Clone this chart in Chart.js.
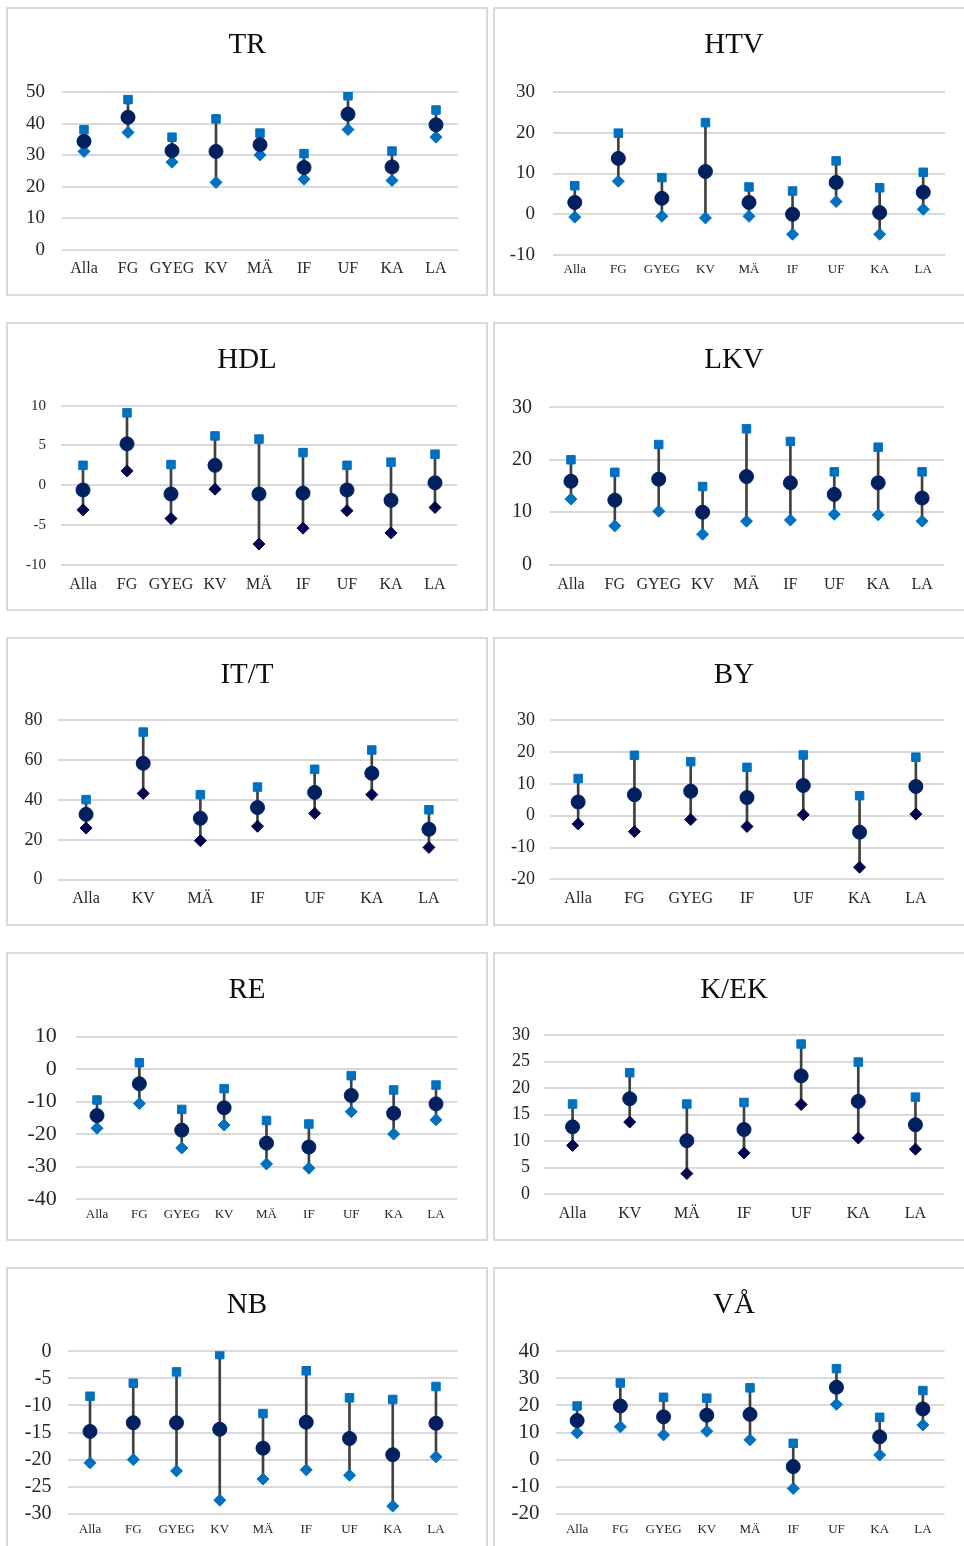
<!DOCTYPE html>
<html><head><meta charset="utf-8">
<script src="https://cdn.jsdelivr.net/npm/chart.js@4.4.0/dist/chart.umd.min.js"></script>
<style>
html,body{margin:0;padding:0;background:#fff;overflow:hidden;width:964px;height:1546px;position:relative;}
.panel{position:absolute;box-sizing:border-box;border:2px solid #d9d9d9;background:#fff;}
canvas{position:absolute;}
</style></head><body>
<script>
// ---- categories ----
const cats9   = ['Alla','FG','GYEG','KV','MÄ','IF','UF','KA','LA'];
const catsIT  = ['Alla','KV','MÄ','IF','UF','KA','LA'];
const catsBY  = ['Alla','FG','GYEG','IF','UF','KA','LA'];
const catsKEK = ['Alla','KV','MÄ','IF','UF','KA','LA'];

// ---- series values (high / mean / low) ----
const trHigh = [38.1, 47.6, 35.7, 41.5, 37.0, 30.5, 48.8, 31.3, 44.3];
const trMean = [34.4, 42.0, 31.4, 31.2, 33.3, 26.1, 43.0, 26.3, 39.6];
const trLow  = [31.2, 37.2, 27.8, 21.4, 30.1, 22.4, 38.1, 22.0, 35.7];

const htvHigh = [7.0, 19.9, 9.0, 22.5, 6.7, 5.7, 13.1, 6.5, 10.3];
const htvMean = [2.9, 13.7, 3.9, 10.5, 2.9, 0.0, 7.8, 0.4, 5.4];
const htvLow  = [-0.7, 8.1, -0.5, -0.9, -0.5, -4.9, 3.1, -4.9, 1.2];

const hdlHigh = [2.5, 9.1, 2.6, 6.2, 5.8, 4.1, 2.5, 2.9, 3.9];
const hdlMean = [-0.6, 5.2, -1.1, 2.5, -1.1, -1.0, -0.6, -1.9, 0.3];
const hdlLow  = [-3.1, 1.8, -4.2, -0.5, -7.4, -5.4, -3.2, -6.0, -2.8];

const lkvHigh = [20.0, 17.6, 22.9, 14.9, 25.9, 23.5, 17.7, 22.4, 17.7];
const lkvMean = [15.9, 12.3, 16.3, 10.0, 16.8, 15.6, 13.4, 15.6, 12.7];
const lkvLow  = [12.5, 7.4, 10.2, 5.8, 8.3, 8.5, 9.6, 9.5, 8.3];

const ittHigh = [40.2, 74.1, 42.7, 46.5, 55.4, 65.1, 35.1];
const ittMean = [32.8, 58.4, 30.8, 36.2, 43.8, 53.4, 25.3];
const ittLow  = [25.9, 43.3, 19.6, 26.8, 33.3, 42.7, 16.2];

const byHigh = [11.7, 19.0, 17.0, 15.2, 19.1, 6.3, 18.4];
const byMean = [4.3, 6.6, 7.7, 5.7, 9.5, -5.2, 9.2];
const byLow  = [-2.6, -5.0, -1.2, -3.4, 0.3, -16.2, 0.5];

const reHigh = [-9.5, 2.0, -12.4, -6.0, -15.8, -16.9, -2.0, -6.4, -4.9];
const reMean = [-14.3, -4.5, -18.8, -11.9, -22.8, -24.0, -8.1, -13.6, -10.7];
const reLow  = [-18.2, -10.6, -24.3, -17.2, -29.2, -30.5, -13.1, -20.0, -15.6];

const kekHigh = [17.0, 22.9, 17.0, 17.3, 28.3, 24.9, 18.3];
const kekMean = [12.7, 18.0, 10.1, 12.2, 22.3, 17.5, 13.1];
const kekLow  = [9.2, 13.6, 3.9, 7.8, 16.9, 10.6, 8.5];

const nbHigh = [-8.3, -5.9, -3.8, -0.6, -11.5, -3.6, -8.6, -8.9, -6.5];
const nbMean = [-14.8, -13.2, -13.2, -14.4, -17.9, -13.1, -16.1, -19.1, -13.3];
const nbLow  = [-20.6, -20.0, -22.1, -27.5, -23.6, -21.9, -22.9, -28.6, -19.5];

const vaHigh = [19.8, 28.3, 23.0, 22.7, 26.5, 6.0, 33.6, 15.6, 25.5];
const vaMean = [14.4, 19.8, 15.8, 16.4, 16.7, -2.6, 26.7, 8.4, 18.7];
const vaLow  = [9.9, 12.1, 9.1, 10.5, 7.3, -10.7, 20.4, 1.7, 12.8];

// ---- y tick ranges [min, max, step] ----
const trTicks  = [0, 50, 10];
const htvTicks = [-10, 30, 10];
const hdlTicks = [-10, 10, 5];
const lkvTicks = [0, 30, 10];
const ittTicks = [0, 80, 20];
const byTicks  = [-20, 30, 10];
const reTicks  = [-40, 10, 10];
const kekTicks = [0, 30, 5];
const nbTicks  = [-30, 0, 5];
const vaTicks  = [-20, 40, 10];

// ---- styling ----
const FONT = "'Liberation Serif', 'DejaVu Serif', serif";
const BLUE = '#0070C0', NAVY = '#002060', DARK = '#03034F', STEM = '#404040', TXT = '#262626';
const W = 482, H = 289;

const panels = [
  {title:'TR',   cats:cats9,   high:trHigh,  mean:trMean,  low:trLow,  ticks:trTicks,  dark:false, col:0,row:0, L:56,  R:452, T:85,   B:243,   yf:19, xf:16, yg:17, xg:9.4},
  {title:'HTV',  cats:cats9,   high:htvHigh, mean:htvMean, low:htvLow, ticks:htvTicks, dark:false, col:1,row:0, L:60,  R:452, T:85,   B:248,   yf:19, xf:13, yg:18, xg:7.2},
  {title:'HDL',  cats:cats9,   high:hdlHigh, mean:hdlMean, low:hdlLow, ticks:hdlTicks, dark:true,  col:0,row:1, L:55,  R:451, T:83.7, B:242.7, yf:15, xf:16, yg:15, xg:10},
  {title:'LKV',  cats:cats9,   high:lkvHigh, mean:lkvMean, low:lkvLow, ticks:lkvTicks, dark:false, col:1,row:1, L:56,  R:451, T:85.3, B:242.7, yf:20, xf:16, yg:17, xg:10},
  {title:'IT/T', cats:catsIT,  high:ittHigh, mean:ittMean, low:ittLow, ticks:ittTicks, dark:true,  col:0,row:2, L:51.5,R:451.5,T:83.3, B:242.7, yf:18, xf:16, yg:15, xg:9},
  {title:'BY',   cats:catsBY,  high:byHigh,  mean:byMean,  low:byLow,  ticks:byTicks,  dark:true,  col:1,row:2, L:57,  R:451, T:83.3, B:242.3, yf:18, xf:16, yg:15, xg:9.4},
  {title:'RE',   cats:cats9,   high:reHigh,  mean:reMean,  low:reLow,  ticks:reTicks,  dark:false, col:0,row:3, L:69.8,R:451.2,T:84.7, B:247,   yf:22, xf:13, yg:19, xg:8.2},
  {title:'K/EK', cats:catsKEK, high:kekHigh, mean:kekMean, low:kekLow, ticks:kekTicks, dark:true,  col:1,row:3, L:51,  R:451, T:83,   B:242.3, yf:18, xf:16, yg:14, xg:9.4},
  {title:'NB',   cats:cats9,   high:nbHigh,  mean:nbMean,  low:nbLow,  ticks:nbTicks,  dark:false, col:0,row:4, L:62.4,R:451.6,T:84.3, B:246.7, yf:20, xf:13, yg:17, xg:8.5},
  {title:'VÅ',   cats:cats9,   high:vaHigh,  mean:vaMean,  low:vaLow,  ticks:vaTicks,  dark:false, col:1,row:4, L:62.5,R:451.5,T:84.3, B:246.7, yf:21, xf:13, yg:16, xg:8.5}
];

function makeChart(p) {
  const x = p.col ? 493 : 6, y = 7 + 315 * p.row;
  const d = document.createElement('div');
  d.className = 'panel';
  d.style.cssText = `left:${x}px;top:${y}px;width:${W}px;height:${H}px`;
  document.body.appendChild(d);
  const cv = document.createElement('canvas');
  cv.width = W; cv.height = H;
  cv.style.cssText = `left:${x}px;top:${y}px;width:${W}px;height:${H}px`;
  document.body.appendChild(cv);
  const lowColor = p.dark ? DARK : BLUE;
  const titleSize = 29, titleLH = titleSize * 1.2, titleCenter = 38;
  const padTop = titleCenter - titleLH / 2;
  const side = W - p.R;
  new Chart(cv.getContext('2d'), {
    type: 'bar',
    data: {
      labels: p.cats,
      datasets: [
        {type:'line', data:p.mean, showLine:false, pointStyle:'circle', pointRadius:7, pointHoverRadius:7, pointBorderWidth:1,
         pointBackgroundColor:NAVY, pointBorderColor:NAVY, order:1},
        {type:'line', data:p.high, showLine:false, pointStyle:'rect', pointRadius:6, pointHoverRadius:6, pointBorderWidth:1,
         pointBackgroundColor:BLUE, pointBorderColor:BLUE, order:2},
        {type:'line', data:p.low, showLine:false, pointStyle:'rectRot', pointRadius:6, pointHoverRadius:6, pointBorderWidth:1,
         pointBackgroundColor:lowColor, pointBorderColor:lowColor, order:3},
        {type:'bar', data:p.low.map((v, i) => [v, p.high[i]]), backgroundColor:STEM, barThickness:2, order:4}
      ]
    },
    options: {
      responsive:false, animation:false, devicePixelRatio:1,
      layout:{padding:0},
      plugins:{
        legend:{display:false}, tooltip:{enabled:false},
        title:{display:true, text:p.title, color:'#0d0d0d',
               font:{family:FONT, size:titleSize, weight:'normal', lineHeight:1.2},
               padding:{top:padTop, bottom:p.T - padTop - titleLH}}
      },
      scales:{
        x:{offset:true, grid:{display:false, drawTicks:false}, border:{display:false},
           ticks:{autoSkip:false, maxRotation:0, minRotation:0, padding:p.xg, color:TXT, font:{family:FONT, size:p.xf}},
           afterFit:s => { s.height = H - p.B; }},
        y:{position:'left', min:p.ticks[0], max:p.ticks[1],
           ticks:{stepSize:p.ticks[2], autoSkip:false, padding:p.yg, color:TXT, font:{family:FONT, size:p.yf}},
           grid:{color:'#d9d9d9', lineWidth:2, drawTicks:false}, border:{display:false},
           afterFit:s => { s.width = p.L; }},
        // empty right-hand spacer axis so the plot ends where the reference's does
        yRight:{type:'linear', position:'right', display:true, min:p.ticks[0], max:p.ticks[1],
           ticks:{display:false}, grid:{display:false, drawTicks:false}, border:{display:false},
           afterFit:s => { s.width = side; }}
      }
    }
  });
}
panels.forEach(makeChart);
</script>
</body></html>
